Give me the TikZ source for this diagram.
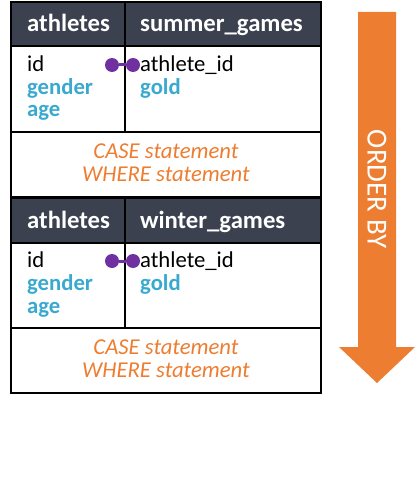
\documentclass[tikz,border=0pt]{standalone}
\usepackage{fontspec}
\setmainfont{Carlito}
\definecolor{hdr}{HTML}{3C4150}
\definecolor{blu}{HTML}{3AA9CF}
\definecolor{org}{HTML}{ED7D31}
\definecolor{pur}{HTML}{7030A0}
\tikzset{
  hdrtxt/.style={anchor=base west, inner sep=0pt, text=white, font=\fontsize{24.7}{26}\selectfont\bfseries},
  plain/.style={anchor=base west, inner sep=0pt, text=black, font=\fontsize{22.7}{24}\selectfont},
  fld/.style={anchor=base west, inner sep=0pt, text=blu, font=\fontsize{22.7}{24}\selectfont\bfseries},
  casetxt/.style={anchor=base, inner sep=0pt, text=org, font=\fontsize{22.7}{24}\selectfont\itshape},
  dot/.style={circle, fill=pur, inner sep=0pt, minimum size=14pt},
  link/.style={pur, line width=3pt},
  frame/.style={draw=black, line width=1.6pt},
}
\begin{document}
\begin{tikzpicture}[x=1pt,y=-1pt]
\useasboundingbox (0,0) rectangle (415,492);
% top table
\fill[hdr] (11,2) rectangle (321,46);
\draw[frame] (11,2) rectangle (321,197);
\draw[frame] (11,46) -- (321,46);
\draw[frame] (11,132) -- (321,132);
\draw[frame] (125,2) -- (125,132);
\node[hdrtxt] (h1a) at (27,32) {athletes};
\node[hdrtxt] (h1b) at (140,32) {summer\_games};
\node[plain] (id1) at (27,72) {id};
\node[fld] (g1) at (27,95) {gender};
\node[fld] (a1) at (27,117) {age};
\node[plain] (aid1) at (140,72) {athlete\_id};
\node[fld] (gold1) at (140,95) {gold};
\node[casetxt] (c1) at (166,158) {CASE statement};
\node[casetxt] (w1) at (166,181) {WHERE statement};
\node[dot] (d1a) at (112,65) {};
\node[dot] (d1b) at (133,65) {};
\draw[link] (d1a) -- (d1b);
% bottom table
\fill[hdr] (11,198) rectangle (321,243);
\draw[frame] (11,198) rectangle (321,393);
\draw[frame] (11,243) -- (321,243);
\draw[frame] (11,328) -- (321,328);
\draw[frame] (125,198) -- (125,328);
\node[hdrtxt] (h2a) at (27,228) {athletes};
\node[hdrtxt] (h2b) at (140,228) {winter\_games};
\node[plain] (id2) at (27,267) {id};
\node[fld] (g2) at (27,290) {gender};
\node[fld] (a2) at (27,313) {age};
\node[plain] (aid2) at (140,267) {athlete\_id};
\node[fld] (gold2) at (140,290) {gold};
\node[casetxt] (c2) at (166,354) {CASE statement};
\node[casetxt] (w2) at (166,377) {WHERE statement};
\node[dot] (d2a) at (112,261) {};
\node[dot] (d2b) at (133,261) {};
\draw[link] (d2a) -- (d2b);
% arrow
\fill[org] (358,12) -- (396,12) -- (396,347) -- (415,347) -- (377,383) -- (339,347) -- (358,347) -- cycle;
\node[rotate=-90, text=white, inner sep=0pt, font=\fontsize{29}{31}\selectfont] (ob) at (377,189) {ORDER BY};
\end{tikzpicture}
\end{document}
